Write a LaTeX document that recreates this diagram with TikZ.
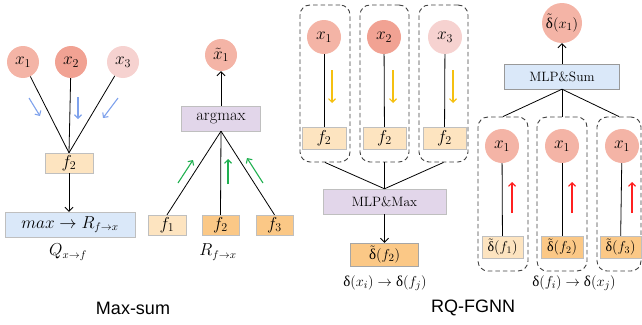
\documentclass[tikz,border=0pt]{standalone}
\usepackage{amsmath}
\usepackage{fontspec}
\newfontfamily\headfont{Liberation Sans}
\newfontfamily\grkfont{Liberation Serif}
\usetikzlibrary{arrows.meta}

\definecolor{varA}{HTML}{F4B4A6}
\definecolor{varB}{HTML}{F1A293}
\definecolor{varC}{HTML}{F6D2D0}
\definecolor{facL}{HTML}{FDE4C0}
\definecolor{facD}{HTML}{FBC886}
\definecolor{lav}{HTML}{E2D6EA}
\definecolor{sky}{HTML}{DAE8F9}
\definecolor{hintB}{HTML}{7FA2EC}
\definecolor{hintG}{HTML}{20B050}
\definecolor{hintY}{HTML}{F5C010}
\definecolor{hintR}{HTML}{FF2020}

\newcommand{\dlt}{\text{\grkfont δ}}
\newcommand{\tdlt}{\tilde{\dlt}}

\begin{document}
\begin{tikzpicture}[x=1pt,y=-1pt,
  var/.style={circle,inner sep=0pt,minimum size=32pt,font=\fontsize{17}{20}\selectfont},
  fac/.style={rectangle,inner sep=0pt,draw=black!25,line width=0.4pt,minimum height=20pt,font=\fontsize{17}{20}\selectfont},
  op/.style={fac,minimum height=25pt,font=\fontsize{13.5}{16}\selectfont},
  grp/.style={rectangle,draw=black!75,dash pattern=on 4.5pt off 3pt,rounded corners=10pt,line width=0.9pt,inner sep=0pt},
  lab/.style={font=\fontsize{15}{18}\selectfont},
  ttl/.style={font=\headfont\fontsize{18}{21}\selectfont},
  link/.style={line width=0.8pt},
  hint/.style={-{Straight Barb[length=3.5pt,width=7pt]},line width=1.1pt},
  >={Straight Barb[length=4pt,width=8pt]}]
\useasboundingbox (0,0) rectangle (642,324);

% max-sum, variable to factor
\node[var,fill=varA] (x1) at (23,62) {$x_1$};
\node[var,fill=varB] (x2) at (71,62) {$x_2$};
\node[var,fill=varC] (x3) at (123,62) {$x_3$};
\node[fac,fill=facL,minimum width=48pt] (f) at (69,163) {$f_2$};
\node[op,fill=sky,minimum width=130pt,font=\fontsize{16}{19}\selectfont] (mx) at (70,224.5) {$max\rightarrow R_{f\rightarrow x}$};
\node[lab,font=\fontsize{16}{19}\selectfont] (q) at (68,252) {$Q_{x\rightarrow f}$};

% max-sum, factor to variable
\node[var,fill=varA] (xt) at (221,55) {$\tilde{x}_1$};
\node[op,fill=lav,minimum width=79pt,font=\fontsize{16.5}{19}\selectfont] (am) at (221,118.5) {argmax};
\node[fac,fill=facL,minimum width=38pt] (fa) at (167,225) {$f_1$};
\node[fac,fill=facD,minimum width=37pt] (fb) at (220.5,225) {$f_2$};
\node[fac,fill=facD,minimum width=37pt] (fc) at (274.5,225) {$f_3$};
\node[lab,font=\fontsize{16}{19}\selectfont] (r) at (218,252) {$R_{f\rightarrow x}$};

% rq-fgnn, variable to factor
\node[grp,minimum width=50pt,minimum height=157pt] (ga) at (325,83.5) {};
\node[grp,minimum width=49pt,minimum height=157pt] (gb) at (384.5,83.5) {};
\node[grp,minimum width=49pt,minimum height=157pt] (gc) at (443.5,83.5) {};
\node[var,fill=varA,minimum size=34pt] (ya) at (324,37) {$x_1$};
\node[var,fill=varB,minimum size=34pt] (yb) at (384,37) {$x_2$};
\node[var,fill=varC,minimum size=34pt] (yc) at (445,37) {$x_3$};
\node[fac,fill=facL,minimum width=44pt,minimum height=22pt] (ha) at (324,138) {$f_2$};
\node[fac,fill=facL,minimum width=43pt,minimum height=22pt] (hb) at (384.5,138) {$f_2$};
\node[fac,fill=facL,minimum width=43pt,minimum height=22pt] (hc) at (444.5,138) {$f_2$};
\node[op,fill=lav,minimum width=123pt] (mm) at (384.5,201.5) {MLP\&Max};
\node[fac,fill=facD,draw=black!35,minimum width=68pt,minimum height=23pt,font=\fontsize{15}{18}\selectfont] (dt) at (384.5,254.5) {$\tdlt(f_2)$};
\node[lab] (la) at (385,283) {$\dlt(x_i)\rightarrow\dlt(f_j)$};

% rq-fgnn, factor to variable
\node[var,fill=varA,minimum size=40pt,font=\fontsize{15}{18}\selectfont] (dx) at (562,23) {$\tdlt(x_1)$};
\node[op,fill=sky,draw=black!40,minimum width=115pt] (ms) at (562,76.5) {MLP\&Sum};
\node[grp,minimum width=50pt,minimum height=154pt] (ka) at (503,194) {};
\node[grp,minimum width=50pt,minimum height=154pt] (kb) at (562,194) {};
\node[grp,minimum width=44pt,minimum height=154pt] (kc) at (619,194) {};
\node[var,fill=varA,minimum size=34pt] (za) at (502,146) {$x_1$};
\node[var,fill=varA,minimum size=34pt] (zb) at (562,146) {$x_1$};
\node[var,fill=varA,minimum size=34pt] (zc) at (622,146) {$x_1$};
\node[fac,fill=facL,minimum width=41pt,minimum height=22pt,font=\fontsize{14}{17}\selectfont] (wa) at (502.5,247) {$\tdlt(f_1)$};
\node[fac,fill=facD,minimum width=42pt,minimum height=22pt,font=\fontsize{14}{17}\selectfont] (wb) at (562,247) {$\tdlt(f_2)$};
\node[fac,fill=facD,minimum width=41pt,minimum height=22pt,font=\fontsize{14}{17}\selectfont] (wc) at (620.5,247) {$\tdlt(f_3)$};
\node[lab] (lb) at (574,283) {$\dlt(f_i)\rightarrow\dlt(x_j)$};

\node[ttl] (ta) at (133,308) {Max-sum};
\node[ttl] (tb) at (473,308) {RQ-FGNN};

\draw[link] (x1) -- (f.north);
\draw[link] (x2) -- (f.north);
\draw[link] (x3) -- (f.north);
\draw[link,->] (f.south) -- (f.south |- mx.north);
\draw[hint,hintB] (29,98) -- (40,116);
\draw[hint,hintB] (78,97) -- (78,119);
\draw[hint,hintB] (118,98) -- (103,118);

\draw[link,->] (am) -- (xt);
\draw[link] (am.south) -- (fa.north);
\draw[link] (am.south) -- (fb.north);
\draw[link] (am.south) -- (fc.north);
\draw[hint,hintG] (178,183) -- (193,160);
\draw[hint,hintG] (228,184) -- (228,159);
\draw[hint,hintG] (263,183) -- (247,158);

\draw[link] (ya) -- (ha);
\draw[link] (yb) -- (hb);
\draw[link] (yc) -- (hc);
\draw[hint,hintY] (332,70) -- (332,103);
\draw[hint,hintY] (393,70) -- (393,103);
\draw[hint,hintY] (453,70) -- (453,103);
\draw[link] (ga.south) -- (mm.north);
\draw[link] (gb.south) -- (mm.north);
\draw[link] (gc.south) -- (mm.north);
\draw[link,->] (mm) -- (dt);

\draw[link,->] (ms) -- (dx);
\draw[link] (ms.south) -- (ka.north);
\draw[link] (ms.south) -- (kb.north);
\draw[link] (ms.south) -- (kc.north);
\draw[link] (za) -- (wa);
\draw[link] (zb) -- (wb);
\draw[link] (zc) -- (wc);
\draw[hint,hintR] (512,213) -- (512,182);
\draw[hint,hintR] (572,213) -- (572,182);
\draw[hint,hintR] (632,213) -- (632,182);
\end{tikzpicture}
\end{document}
